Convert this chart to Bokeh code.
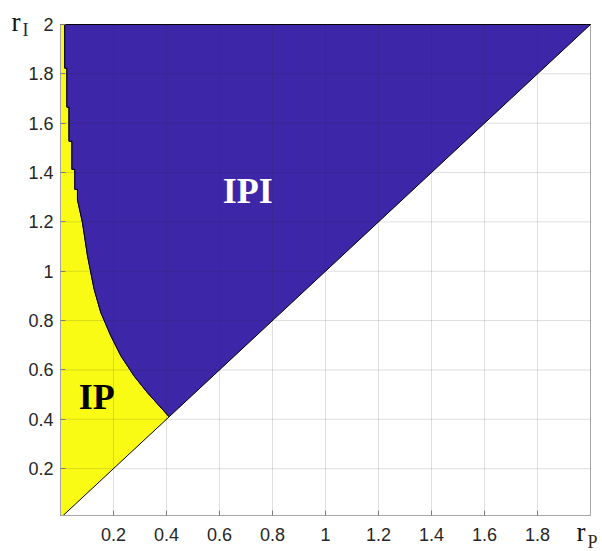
from bokeh.plotting import figure
from bokeh.models import FixedTicker, Label, Range1d, PrintfTickFormatter
from bokeh.embed import file_html
from bokeh.resources import INLINE

# ---- data ----
r_min = 0.01
r_max = 2.0
x_ticks = [0.2, 0.4, 0.6, 0.8, 1.0, 1.2, 1.4, 1.6, 1.8]
y_ticks = [0.2, 0.4, 0.6, 0.8, 1.0, 1.2, 1.4, 1.6, 1.8, 2.0]

# boundary between IP (yellow) and IPI (blue), from top (r_I = 2) down to the diagonal
curve_rp = [0.016, 0.016, 0.024, 0.024, 0.032, 0.032, 0.043, 0.043, 0.054, 0.054,
            0.064, 0.064, 0.083, 0.102, 0.127, 0.152, 0.190, 0.228, 0.278, 0.328, 0.41]
curve_ri = [2.0, 1.823, 1.823, 1.665, 1.665, 1.527, 1.527, 1.413, 1.413, 1.332,
            1.332, 1.29, 1.197, 1.062, 0.927, 0.833, 0.738, 0.657, 0.575, 0.508, 0.41]

BLUE = "#3E26A8"
YELLOW = "#F9FB15"

# region polygons built from the data
ipi_x = curve_rp + [r_max]
ipi_y = curve_ri + [r_max]
ip_x = [0.0, 0.0] + curve_rp + [r_min]
ip_y = [r_min, r_max] + curve_ri + [r_min]

# ---- layout (pixels) ----
W, H = 602, 551
BOX_L, BOX_R, BOX_T, BOX_B = 60, 590, 24, 515
sx = (BOX_R - BOX_L) / (r_max - 0.0)
sy = (BOX_B - BOX_T) / (r_max - r_min)
x_range = Range1d(0.0 - BOX_L / sx, r_max + (W - BOX_R) / sx)
y_range = Range1d(r_min - (H - BOX_B) / sy, r_max + BOX_T / sy)

p = figure(width=W, height=H, x_range=x_range, y_range=y_range, title=None,
           output_backend="svg", toolbar_location=None, min_border=0)
p.background_fill_color = "white"
p.border_fill_color = "white"
p.outline_line_color = None
p.grid.visible = False

# plot box
p.quad(left=[0.0], right=[r_max], bottom=[r_min], top=[r_max],
       fill_alpha=0, line_color="#a6a6a6", line_width=1)

p.patch(ip_x, ip_y, fill_color=YELLOW, line_color="black", line_width=1)
p.patch(ipi_x, ipi_y, fill_color=BLUE, line_color="black", line_width=1)

# grid on top of the regions (MATLAB style)
p.segment(x0=x_ticks, y0=r_min, x1=x_ticks, y1=r_max, line_color="#262626",
          line_alpha=0.15, line_width=1, level="overlay")
p.segment(x0=0.0, y0=y_ticks, x1=r_max, y1=y_ticks, line_color="#262626",
          line_alpha=0.15, line_width=1, level="overlay")

fmt = PrintfTickFormatter(format="%g")
p.xaxis.ticker = FixedTicker(ticks=x_ticks)
p.yaxis.ticker = FixedTicker(ticks=y_ticks)
p.xaxis.fixed_location = r_min
p.yaxis.fixed_location = 0.0
p.xaxis.bounds = (0.0, r_max)
p.yaxis.bounds = (r_min, r_max)
for ax in p.axis:
    ax.formatter = fmt
    ax.major_tick_in = 5
    ax.major_tick_out = 0
    ax.minor_tick_in = 0
    ax.minor_tick_out = 0
    ax.axis_line_color = "#a6a6a6"
    ax.major_tick_line_color = "#8a8a8a"
    ax.major_label_text_font = "Liberation Sans"
    ax.major_label_text_font_size = "18px"
    ax.major_label_text_color = "#262626"
p.xaxis.major_label_standoff = 12
p.yaxis.major_label_standoff = 7

p.add_layout(Label(x=0.612, y=1.325, text="IPI", text_font="Liberation Serif",
                   text_font_style="bold", text_font_size="36px", text_color="white",
                   text_align="left", text_baseline="alphabetic"))
p.add_layout(Label(x=0.069, y=0.489, text="IP", text_font="Liberation Serif",
                   text_font_style="bold", text_font_size="36px", text_color="black",
                   text_align="left", text_baseline="alphabetic"))

# axis names r_I (top-left) and r_P (bottom-right), placed in canvas pixels
def name_label(x, y, text, size, color):
    return Label(x=x, y=y, x_units="canvas", y_units="canvas", text=text,
                 text_font="Liberation Serif", text_font_size=size, text_color=color,
                 text_align="left", text_baseline="alphabetic")

p.add_layout(name_label(11, 21, "r", "27px", "#141414"))
p.add_layout(name_label(22, 29, "I", "18px", "#1a1f4a"))
p.add_layout(name_label(576, 531, "r", "27px", "#141414"))
p.add_layout(name_label(587, 541, "P", "18px", "#3a2a12"))

open("out.html", "w").write(file_html(p, INLINE))
